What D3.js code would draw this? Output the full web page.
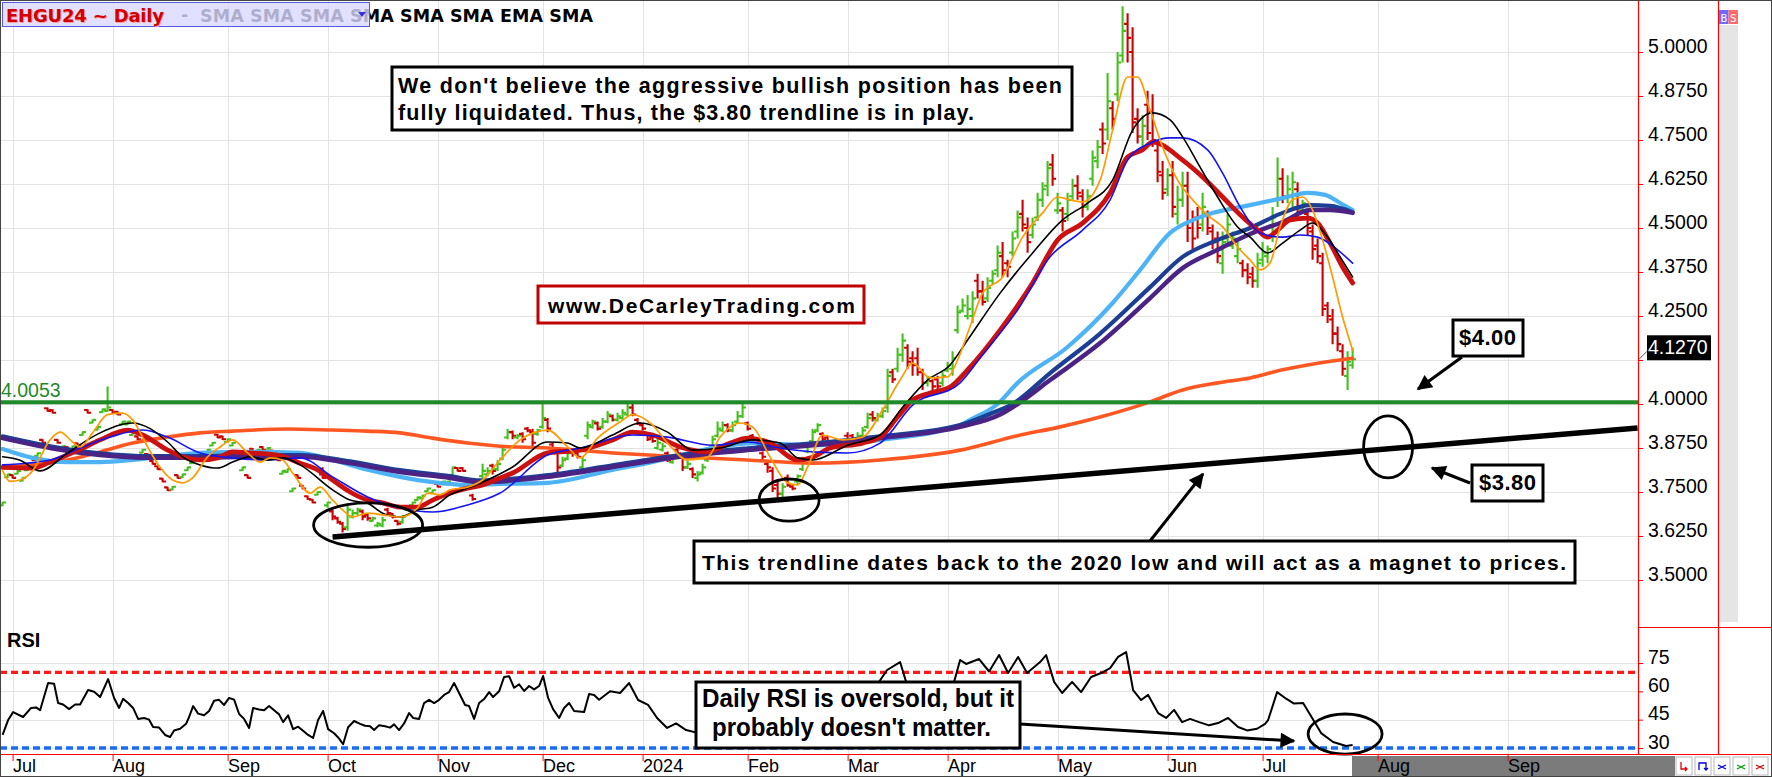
<!DOCTYPE html>
<html><head><meta charset="utf-8">
<script src="https://cdn.jsdelivr.net/npm/d3@7"></script>
<style>html,body{margin:0;padding:0;background:#fff;}svg{display:block;}</style>
</head><body>
<svg id="chart" width="1772" height="777"></svg>
<script>
// ---------------- DATA ----------------
const opens = [3.712,3.792,3.798,3.802,3.782,3.812,3.848,3.852,3.898,3.988,
3.983,3.898,3.872,3.878,3.872,3.888,3.912,3.983,3.947,3.927,
3.977,3.980,3.983,3.978,3.942,3.942,3.912,3.908,3.862,3.858,
3.838,3.823,3.788,3.763,3.757,3.798,3.792,3.812,3.832,3.858,
3.847,3.862,3.882,3.913,3.908,3.892,3.882,3.858,3.812,3.798,
3.873,3.862,3.878,3.867,3.868,3.848,3.802,3.807,3.752,3.798,
3.768,3.738,3.728,3.742,3.800,3.712,3.695,3.675,3.660,3.650,
3.680,3.690,3.695,3.685,3.668,3.655,3.655,3.700,3.688,3.668,
3.665,3.700,3.712,3.727,3.732,3.752,3.747,3.773,3.772,3.772,
3.790,3.818,3.818,3.768,3.740,3.770,3.795,3.800,3.825,3.815,
3.845,3.905,3.920,3.905,3.915,3.930,3.920,3.915,3.935,3.955,
3.885,3.860,3.825,3.845,3.865,3.860,3.820,3.910,3.935,3.945,
3.935,3.950,3.965,3.955,3.960,3.970,3.990,3.955,3.940,3.915,
3.905,3.875,3.870,3.860,3.835,3.870,3.850,3.820,3.815,3.790,
3.805,3.840,3.880,3.910,3.925,3.940,3.925,3.950,3.965,3.945,
3.910,3.890,3.860,3.830,3.810,3.770,3.745,3.790,3.765,3.780,
3.815,3.865,3.895,3.925,3.915,3.905,3.890,3.885,3.890,3.910,
3.910,3.900,3.910,3.935,3.970,3.955,3.965,3.990,4.090,4.100,
4.140,4.160,4.130,4.130,4.090,4.060,4.065,4.070,4.060,4.095,
4.100,4.210,4.265,4.250,4.250,4.350,4.320,4.300,4.350,4.380,
4.420,4.400,4.430,4.490,4.540,4.500,4.480,4.530,4.580,4.620,
4.680,4.550,4.550,4.540,4.590,4.620,4.590,4.560,4.640,4.690,
4.780,4.780,4.840,4.880,4.990,5.080,5.000,4.810,4.760,4.850,
4.830,4.720,4.650,4.610,4.650,4.540,4.580,4.620,4.520,4.530,
4.510,4.540,4.490,4.470,4.400,4.470,4.450,4.420,4.400,4.380,
4.370,4.350,4.410,4.420,4.480,4.580,4.640,4.590,4.590,4.610,
4.550,4.540,4.490,4.450,4.400,4.280,4.240,4.200,4.150,4.080,
4.110];
const highs = [3.722,3.802,3.800,3.812,3.792,3.822,3.850,3.862,3.900,3.990,
3.985,3.900,3.882,3.880,3.882,3.890,3.922,3.985,3.957,3.937,
3.987,4.050,3.985,3.980,3.952,3.952,3.922,3.910,3.872,3.860,
3.840,3.825,3.790,3.765,3.767,3.800,3.802,3.822,3.842,3.860,
3.857,3.872,3.892,3.915,3.910,3.902,3.892,3.860,3.822,3.800,
3.875,3.872,3.880,3.877,3.870,3.850,3.812,3.817,3.762,3.800,
3.770,3.740,3.730,3.752,3.820,3.722,3.700,3.680,3.665,3.710,
3.700,3.705,3.700,3.690,3.680,3.665,3.680,3.705,3.690,3.670,
3.685,3.712,3.722,3.737,3.742,3.762,3.757,3.775,3.782,3.782,
3.822,3.820,3.820,3.770,3.745,3.782,3.830,3.820,3.830,3.840,
3.880,3.930,3.925,3.915,3.920,3.935,3.930,3.930,4.000,3.960,
3.890,3.870,3.850,3.870,3.870,3.865,3.850,3.950,3.955,3.950,
3.960,3.980,3.970,3.975,3.985,4.000,4.000,3.960,3.945,3.920,
3.915,3.905,3.890,3.865,3.850,3.875,3.860,3.840,3.820,3.810,
3.830,3.870,3.910,3.950,3.950,3.945,3.950,3.980,4.000,3.950,
3.915,3.895,3.865,3.835,3.820,3.780,3.775,3.800,3.770,3.800,
3.850,3.890,3.930,3.945,3.920,3.910,3.895,3.900,3.895,3.920,
3.915,3.920,3.935,3.975,3.980,3.975,3.990,4.100,4.100,4.160,
4.200,4.170,4.150,4.160,4.100,4.080,4.070,4.080,4.090,4.120,
4.150,4.280,4.300,4.310,4.320,4.370,4.350,4.360,4.380,4.450,
4.460,4.410,4.490,4.550,4.580,4.530,4.530,4.600,4.630,4.690,
4.710,4.600,4.560,4.600,4.640,4.650,4.610,4.610,4.720,4.750,
4.800,4.940,4.860,5.000,5.130,5.110,5.070,4.840,4.820,4.890,
4.880,4.750,4.690,4.670,4.690,4.620,4.660,4.660,4.550,4.560,
4.600,4.550,4.510,4.490,4.490,4.540,4.490,4.460,4.410,4.400,
4.390,4.430,4.460,4.450,4.560,4.700,4.670,4.650,4.660,4.630,
4.580,4.550,4.510,4.470,4.430,4.290,4.270,4.220,4.170,4.150,
4.160];
const lows = [3.710,3.790,3.788,3.800,3.780,3.810,3.838,3.850,3.888,3.978,
3.973,3.888,3.870,3.868,3.870,3.878,3.910,3.973,3.945,3.925,
3.975,3.978,3.973,3.968,3.940,3.940,3.910,3.898,3.860,3.848,
3.828,3.813,3.778,3.753,3.755,3.788,3.790,3.810,3.830,3.848,
3.845,3.860,3.880,3.903,3.898,3.890,3.880,3.848,3.810,3.788,
3.863,3.860,3.868,3.865,3.858,3.838,3.800,3.805,3.750,3.788,
3.758,3.728,3.718,3.740,3.788,3.705,3.670,3.660,3.635,3.640,
3.675,3.685,3.670,3.668,3.665,3.650,3.650,3.685,3.675,3.655,
3.660,3.698,3.710,3.725,3.730,3.750,3.745,3.763,3.770,3.770,
3.785,3.808,3.808,3.758,3.725,3.768,3.790,3.795,3.800,3.810,
3.840,3.900,3.900,3.900,3.890,3.920,3.880,3.910,3.930,3.920,
3.860,3.800,3.820,3.840,3.850,3.845,3.810,3.900,3.930,3.925,
3.930,3.945,3.950,3.950,3.955,3.965,3.965,3.940,3.925,3.895,
3.890,3.870,3.865,3.835,3.830,3.850,3.810,3.815,3.790,3.780,
3.800,3.835,3.875,3.905,3.920,3.920,3.920,3.945,3.960,3.925,
3.895,3.875,3.840,3.805,3.750,3.735,3.735,3.765,3.755,3.770,
3.810,3.860,3.890,3.920,3.890,3.890,3.880,3.880,3.880,3.890,
3.895,3.895,3.905,3.930,3.950,3.950,3.960,3.975,4.060,4.090,
4.120,4.100,4.080,4.080,4.040,4.050,4.040,4.040,4.050,4.090,
4.080,4.200,4.260,4.240,4.230,4.300,4.280,4.290,4.340,4.360,
4.360,4.360,4.420,4.470,4.490,4.430,4.470,4.520,4.560,4.590,
4.620,4.540,4.490,4.520,4.580,4.580,4.530,4.550,4.620,4.670,
4.710,4.750,4.780,4.860,4.970,4.970,4.770,4.740,4.730,4.750,
4.730,4.630,4.580,4.590,4.530,4.510,4.560,4.460,4.440,4.470,
4.490,4.480,4.440,4.400,4.370,4.450,4.440,4.400,4.360,4.340,
4.330,4.330,4.390,4.400,4.460,4.560,4.570,4.570,4.560,4.530,
4.540,4.480,4.410,4.400,4.250,4.230,4.170,4.150,4.080,4.040,
4.100];
const closes = [3.720,3.800,3.790,3.810,3.790,3.820,3.840,3.860,3.890,3.980,
3.975,3.890,3.880,3.870,3.880,3.880,3.920,3.975,3.955,3.935,
3.985,3.990,3.975,3.970,3.950,3.950,3.920,3.900,3.870,3.850,
3.830,3.815,3.780,3.755,3.765,3.790,3.800,3.820,3.840,3.850,
3.855,3.870,3.890,3.905,3.900,3.900,3.890,3.850,3.820,3.790,
3.865,3.870,3.870,3.875,3.860,3.840,3.810,3.815,3.760,3.790,
3.760,3.730,3.720,3.750,3.790,3.720,3.680,3.665,3.645,3.700,
3.690,3.700,3.680,3.675,3.675,3.660,3.670,3.690,3.680,3.660,
3.680,3.710,3.720,3.735,3.740,3.760,3.755,3.765,3.780,3.780,
3.820,3.810,3.810,3.760,3.730,3.780,3.810,3.810,3.810,3.830,
3.870,3.920,3.910,3.910,3.900,3.925,3.890,3.925,3.960,3.930,
3.870,3.820,3.840,3.860,3.860,3.850,3.840,3.940,3.950,3.930,
3.950,3.970,3.955,3.965,3.975,3.990,3.970,3.945,3.930,3.900,
3.895,3.890,3.880,3.840,3.845,3.860,3.820,3.830,3.800,3.800,
3.820,3.860,3.900,3.930,3.940,3.925,3.940,3.965,3.990,3.930,
3.900,3.880,3.850,3.820,3.760,3.745,3.765,3.770,3.760,3.795,
3.840,3.880,3.920,3.940,3.900,3.895,3.885,3.890,3.885,3.900,
3.900,3.910,3.925,3.960,3.960,3.965,3.980,4.080,4.070,4.140,
4.180,4.120,4.110,4.090,4.060,4.075,4.050,4.050,4.080,4.110,
4.130,4.260,4.280,4.270,4.300,4.320,4.290,4.330,4.370,4.430,
4.380,4.390,4.470,4.530,4.510,4.460,4.510,4.580,4.610,4.670,
4.640,4.570,4.520,4.580,4.620,4.600,4.560,4.590,4.700,4.730,
4.740,4.860,4.810,4.970,5.060,5.040,4.800,4.760,4.790,4.770,
4.750,4.660,4.600,4.650,4.560,4.580,4.620,4.500,4.470,4.500,
4.560,4.500,4.460,4.420,4.460,4.510,4.470,4.440,4.380,4.360,
4.350,4.400,4.430,4.440,4.530,4.640,4.590,4.610,4.630,4.560,
4.570,4.500,4.440,4.420,4.270,4.250,4.200,4.170,4.100,4.120,
4.127];

const smaOrange = [[0,3.81],[1.5,3.78],[3.5,3.784],[6,3.81],[9.5,3.898],[11.5,3.92],[14,3.892],[15.5,3.878],[18,3.918],[21,3.97],[24,3.974],[26,3.955],[29,3.878],[31.5,3.82],[34,3.784],[36,3.776],[38,3.79],[41,3.85],[43.5,3.878],[46,3.898],[49,3.861],[51.5,3.835],[53.5,3.847],[56,3.841],[58,3.804],[61.5,3.747],[63.5,3.764],[66,3.727],[68,3.699],[70,3.679],[73,3.69],[76,3.685],[79.5,3.679],[83,3.705],[85,3.747],[87.5,3.742],[89.5,3.756],[93,3.764],[96,3.784],[99.5,3.841],[103.5,3.898],[109,3.926],[113,3.878],[115.5,3.847],[119,3.903],[123.5,3.949],[126,3.97],[130,3.94],[133,3.889],[137,3.841],[141,3.849],[143.5,3.906],[147.5,3.946],[150,3.935],[153.5,3.849],[157,3.776],[159,3.77],[161,3.821],[164,3.912],[168,3.898],[172,3.906],[176,3.983],[179.5,4.068],[182,4.116],[185.5,4.074],[189,4.077],[191,4.125],[193.5,4.22],[196,4.315],[200,4.361],[204,4.474],[208,4.543],[211,4.588],[213.5,4.58],[216,4.574],[219.5,4.636],[222,4.778],[225,4.929],[227,4.929],[229.5,4.835],[232,4.73],[235,4.636],[238,4.58],[241.5,4.531],[244,4.503],[247,4.446],[249.5,4.409],[251.5,4.381],[253.5,4.401],[255.5,4.503],[258,4.58],[260,4.588],[262,4.551],[264,4.466],[266,4.361],[268,4.247],[270,4.153]];
const smaBlack = [[0,3.85],[3.5,3.84],[7.5,3.81],[13,3.861],[19.5,3.918],[26,3.946],[29.5,3.93],[33,3.892],[36,3.85],[39.5,3.827],[43,3.818],[46,3.835],[49.5,3.85],[53,3.841],[56,3.847],[59.5,3.827],[66,3.756],[69.5,3.727],[73,3.718],[76,3.69],[79.5,3.679],[83,3.699],[86,3.707],[89.5,3.742],[93,3.761],[96,3.778],[102,3.821],[109,3.892],[113,3.889],[115.5,3.875],[122,3.912],[127.5,3.946],[133,3.92],[138,3.869],[143.5,3.875],[150,3.898],[155.5,3.889],[159,3.847],[162,3.841],[169,3.883],[175.5,3.912],[180,3.991],[185,4.068],[189.5,4.111],[193,4.182],[199.5,4.315],[206,4.429],[212,4.523],[217,4.571],[222,4.636],[226,4.778],[230,4.827],[233.5,4.807],[236,4.759],[239.5,4.673],[243,4.588],[247,4.503],[249.5,4.474],[253,4.429],[256,4.457],[259.5,4.494],[262,4.514],[265,4.474],[267.5,4.418],[270,4.361]];
const smaBlue = [[0,3.827],[9.5,3.841],[16,3.878],[21.5,3.906],[28,3.926],[33,3.906],[39.5,3.861],[46,3.847],[53,3.841],[59.5,3.847],[66,3.793],[73,3.736],[79.5,3.705],[86,3.693],[93,3.713],[99.5,3.747],[109,3.855],[115.5,3.875],[126,3.912],[133,3.906],[142,3.883],[149,3.892],[155.5,3.875],[162,3.864],[169,3.861],[175.5,3.889],[182,3.997],[191.5,4.06],[196,4.14],[203,4.267],[209.5,4.418],[216,4.494],[221.5,4.58],[225,4.693],[229.5,4.741],[233.5,4.756],[236,4.756],[241,4.722],[244,4.656],[247.5,4.56],[251.5,4.486],[256,4.474],[259.5,4.48],[263,4.474],[267,4.438],[270,4.4]];
const emaRed = [[0,3.82],[6,3.818],[9.5,3.835],[16,3.875],[19.5,3.898],[25,3.926],[28,3.912],[33,3.869],[36,3.85],[39.5,3.841],[43,3.847],[46,3.864],[49.5,3.861],[55,3.855],[59.5,3.832],[63,3.813],[66,3.784],[69.5,3.75],[73,3.727],[76,3.719],[79.5,3.707],[83,3.707],[86,3.727],[89.5,3.747],[93,3.761],[96,3.77],[99.5,3.79],[102,3.804],[109,3.861],[115.5,3.869],[122,3.898],[126,3.92],[130,3.912],[135.5,3.878],[141,3.864],[145.5,3.889],[149,3.903],[153.5,3.889],[159,3.841],[162,3.849],[165.5,3.875],[172,3.889],[175.5,3.906],[179,3.963],[182,4.011],[185.5,4.031],[189.5,4.048],[193,4.097],[199.5,4.21],[206,4.344],[211,4.466],[216,4.514],[221.5,4.6],[225,4.702],[228,4.722],[230,4.744],[236,4.693],[240,4.645],[244,4.588],[248,4.531],[251,4.494],[253,4.474],[255,4.494],[257.5,4.523],[261,4.528],[263,4.514],[265.5,4.457],[268,4.389],[270,4.344]];
const smaLightBlue = [[0,3.872],[6,3.847],[13,3.835],[19.5,3.835],[26,3.841],[33,3.852],[39.5,3.861],[49.5,3.864],[59.5,3.861],[66,3.841],[73,3.813],[79.5,3.793],[86,3.778],[93,3.77],[99.5,3.773],[109,3.776],[122,3.813],[129,3.832],[142,3.875],[150,3.889],[162,3.883],[175.5,3.898],[191.5,3.94],[193.5,3.955],[199,4.0],[203,4.06],[213,4.162],[222,4.287],[227.5,4.381],[233.5,4.486],[239.5,4.531],[249.5,4.565],[256,4.585],[261,4.6],[264.5,4.594],[267.5,4.571],[270,4.551]];
const smaNavy = [[0,3.908],[9.5,3.88],[19.5,3.86],[29.5,3.852],[39.5,3.852],[49.5,3.855],[59.5,3.855],[69.5,3.837],[79.5,3.812],[89.5,3.795],[95.5,3.783],[109,3.798],[122,3.826],[135.5,3.855],[149,3.874],[162,3.888],[175.5,3.908],[191.5,3.94],[198,3.975],[202,4.0],[209.5,4.088],[219.5,4.2],[229.5,4.332],[236,4.418],[243,4.466],[249.5,4.5],[256,4.543],[261.5,4.565],[265.5,4.563],[270,4.545]];
const smaPurple = [[0,3.903],[9.5,3.875],[19.5,3.855],[29.5,3.847],[39.5,3.847],[49.5,3.85],[59.5,3.85],[69.5,3.832],[79.5,3.807],[89.5,3.79],[95.5,3.778],[109,3.793],[122,3.821],[135.5,3.85],[149,3.869],[162,3.883],[175.5,3.903],[191.5,3.935],[199.5,3.97],[203,4.0],[209.5,4.068],[219.5,4.173],[229.5,4.301],[236,4.386],[243,4.438],[249.5,4.483],[256,4.517],[261.5,4.551],[265.5,4.551],[270,4.543]];
const sma200 = [[0,3.82],[6,3.827],[13,3.841],[19.5,3.864],[26,3.889],[33,3.906],[39.5,3.918],[46,3.923],[57,3.929],[66,3.926],[73,3.923],[79.5,3.918],[86,3.903],[93,3.889],[99.5,3.88],[109,3.875],[122,3.861],[135.5,3.85],[149,3.841],[162,3.832],[175.5,3.841],[191.5,3.869],[203,3.91],[211.5,3.935],[219.5,3.963],[229.5,4.006],[236,4.04],[243,4.06],[249.5,4.074],[256,4.097],[263,4.116],[270,4.13]];

const rsi = [[0,37],[1.1,44.8],[2.1,49],[4.1,46.4],[5.7,51.2],[6.7,51.5],[7.5,50],[9.1,64.4],[10.3,64],[11.1,53.8],[12.1,53],[13.3,50.6],[14.5,53],[15.5,53],[17.1,60.7],[18.3,59.8],[19.5,57],[21.1,66.5],[22.3,56.5],[23.3,51.2],[24.1,56],[25.1,53.8],[26.1,51.2],[27.1,45.4],[28.3,45.9],[29.3,45],[30.1,41.1],[31.3,40.8],[32.5,36.9],[33.5,35.8],[34.3,39.3],[35.5,40.2],[36.7,42.8],[37.3,46.4],[38.1,52.2],[39.1,48.2],[40.3,47.3],[41.3,49.6],[42.3,55],[43.3,55.5],[44.3,52.8],[45.3,56.5],[46.3,55.6],[47.3,48],[48.3,45.4],[49.3,40.6],[50.1,51.2],[51.3,50.4],[52.3,50],[53.3,52.2],[54.3,50],[55.3,47.8],[56.1,43.7],[57.1,47.3],[58.1,40],[59.1,41.3],[60.1,39.1],[61.1,36.9],[62.1,35.3],[63.1,44.8],[64.1,49.6],[65.1,40],[66.3,37.8],[67.3,35],[68.1,32],[69.1,41],[70.3,44.3],[71.5,42.8],[72.5,41.8],[73.5,41.5],[74.3,39.5],[75.3,42.1],[76.5,41.5],[77.5,40.8],[78.3,42.5],[79.3,39.5],[80.3,43],[81.3,48.5],[82.1,45.9],[83.3,45.4],[84.3,53.8],[85.3,55.5],[86.3,53.8],[87.3,55.5],[88.3,58.1],[89.3,59.6],[90.3,64.4],[91.3,59.1],[92.5,52.8],[93.3,52.2],[94.3,45.4],[95.3,53.8],[96.3,55.9],[97.3,59.6],[98.1,57],[99.3,60],[100.3,67.6],[101.3,68],[102.3,61.9],[103.3,63.7],[104.3,60.2],[105.3,62.8],[106.3,61],[107.3,62.8],[108.1,68.1],[109.1,56.5],[110.1,50.6],[111.3,45.9],[112.3,51.2],[113.3,53.8],[114.3,49.6],[116.3,49],[117.3,58.6],[118.3,58.1],[119.3,55.5],[121.5,60],[123.5,59.1],[125.3,64.4],[127.1,55.4],[129.1,52.8],[130.9,45.9],[132.9,40.6],[134.7,43],[136.7,39.5],[139,38],[142,47],[145,50],[148,56],[150,48],[153,40],[155,33],[157,36],[159,41],[161,50],[163,58],[165,53],[168,52],[171,55],[174,60],[176.9,71.3],[179.5,75.5],[180.7,65],[182,63],[184,58],[186,56],[188,61],[190.3,65],[191.5,76.6],[192.7,74.5],[195.3,77.1],[197.3,70.5],[199.3,79.2],[201.1,69.7],[203.1,78.2],[204.9,69.7],[207.5,75.5],[208.7,79.2],[210.3,65],[211.9,59.1],[213.9,65],[215.7,59.6],[217.7,67.6],[219.7,69.7],[221.5,72.3],[223.1,78.2],[224.7,80.8],[226.1,60.7],[227.7,55.4],[229.1,58.1],[231.1,48.5],[232.7,45.9],[234.3,50.2],[235.9,43.7],[237.5,45.4],[239.3,43.7],[241.3,42],[243.1,43.2],[245.1,45.9],[247.1,41.1],[248.9,39.3],[250.9,40.2],[252.5,42.8],[253.1,44.8],[254.9,59.6],[256.7,56.1],[258.3,53.5],[260.1,53.8],[261.7,46.8],[263.7,37.9],[266.1,33.2],[268.7,31.1],[270,31.6]];

const priceTicks = [3.5,3.625,3.75,3.875,4.0,4.125,4.25,4.375,4.5,4.625,4.75,4.875,5.0];
const rsiTicks = [30,45,60,75];
const monthIdx = [2,22,45,65,87,108,128,149,169,189,211,233,252,275,301];
const monthLabels = ["Jul","Aug","Sep","Oct","Nov","Dec","2024","Feb","Mar","Apr","May","Jun","Jul","Aug","Sep"];
const supportLevel = 4.0053;
const lastPrice = 4.127;
const trendline = [[66,3.622],[327,3.932]];
const rsiLevels = [70,30];

// ---------------- SCALES ----------------
const svg = d3.select('#chart');
const FONT = '"Liberation Sans", Arial, sans-serif';
const PX = 1638;
const x = d3.scaleLinear().domain([0,270]).range([2.6,1352.6]);
const y = d3.scaleLinear().domain([3.5,5.0]).range([580,52]);
const yr = d3.scaleLinear().domain([30,75]).range([748,663]);

svg.append('rect').attr('width',1772).attr('height',777).attr('fill','#fff');
const defs = svg.append('defs');
defs.append('clipPath').attr('id','cp').append('rect').attr('x',0).attr('y',0).attr('width',PX).attr('height',627);
defs.append('clipPath').attr('id','cr').append('rect').attr('x',0).attr('y',627).attr('width',PX).attr('height',127);
defs.append('marker').attr('id','ah').attr('viewBox','0 0 10 10').attr('refX',9).attr('refY',5)
  .attr('markerWidth',17).attr('markerHeight',15).attr('markerUnits','userSpaceOnUse').attr('orient','auto')
  .append('path').attr('d','M0,0 L10,5 L0,10 z').attr('fill','#000');

// ---------------- GRID ----------------
const grid = svg.append('g').attr('stroke','#e2e2e2').attr('stroke-width',1);
grid.selectAll('.hg').data(priceTicks).join('line').attr('class','hg')
  .attr('x1',0).attr('x2',PX).attr('y1',d=>Math.round(y(d))+0.5).attr('y2',d=>Math.round(y(d))+0.5);
grid.selectAll('.rg').data(rsiTicks).join('line').attr('class','rg')
  .attr('x1',0).attr('x2',PX).attr('y1',d=>Math.round(yr(d))+0.5).attr('y2',d=>Math.round(yr(d))+0.5);
grid.selectAll('.vg').data(monthIdx).join('line').attr('class','vg')
  .attr('x1',d=>Math.round(x(d))+0.5).attr('x2',d=>Math.round(x(d))+0.5).attr('y1',0).attr('y2',754);

// ---------------- BARS ----------------
const barsG = svg.append('g').attr('clip-path','url(#cp)');
barsG.selectAll('path').data(closes).join('path')
  .attr('d',(c,i)=>{const xi=x(i);return `M${xi},${y(highs[i])}V${y(lows[i])}M${xi-3.5},${y(opens[i])}H${xi}M${xi},${y(c)}H${xi+3.5}`;})
  .attr('fill','none').attr('stroke-width',2.1)
  .attr('stroke',(c,i)=>c>=opens[i]?'#44c01c':'#cc0000');

// ---------------- MOVING AVERAGES ----------------
const lineGen = d3.line().x(d=>x(d[0])).y(d=>y(d[1])).curve(d3.curveMonotoneX);
const maG = svg.append('g').attr('clip-path','url(#cp)').attr('fill','none').attr('stroke-linejoin','round').attr('stroke-linecap','round');
const maSpecs = [
  [sma200,'#ff5722',3.6],[smaLightBlue,'#4db3f5',4.2],[smaNavy,'#1c3f94',4.2],[smaPurple,'#4a2384',4.5],
  [emaRed,'#cc1111',4.8],[smaBlue,'#1515ee',1.6],[smaBlack,'#000000',1.6],[smaOrange,'#ff9a00',1.7]
];
maSpecs.forEach(([data,col,w])=>maG.append('path').attr('d',lineGen(data)).attr('stroke',col).attr('stroke-width',w));

// support line & trendline
svg.append('line').attr('x1',0).attr('x2',PX).attr('y1',y(supportLevel)).attr('y2',y(supportLevel))
  .attr('stroke','#1f8a2a').attr('stroke-width',4);
svg.append('text').attr('x',1).attr('y',y(supportLevel)-5).text(supportLevel.toFixed(4))
  .attr('fill','#1f8a2a').style('font','19.5px '+FONT);
svg.append('line').attr('x1',x(trendline[0][0])).attr('y1',y(trendline[0][1]))
  .attr('x2',x(trendline[1][0])).attr('y2',y(trendline[1][1]))
  .attr('stroke','#000').attr('stroke-width',5.5).attr('stroke-linecap','butt');

// ellipses (data-anchored)
const ell = (cx,cy,rx,ry,sy)=>svg.append('ellipse').attr('cx',x(cx)).attr('cy',sy(cy))
  .attr('rx',x(cx+rx)-x(cx)).attr('ry',Math.abs(sy(cy+ry)-sy(cy)))
  .attr('fill','none').attr('stroke','#000').attr('stroke-width',2.8);
ell(73.1,3.656,10.9,0.063,y);
ell(157.3,3.727,6,0.06,y);
ell(277.1,3.878,4.9,0.088,y);

// ---------------- RSI ----------------
const rsiG = svg.append('g').attr('clip-path','url(#cr)');
rsiG.append('line').attr('x1',0).attr('x2',PX-2).attr('y1',yr(rsiLevels[0])).attr('y2',yr(rsiLevels[0]))
  .attr('stroke','#ff1a1a').attr('stroke-width',3.2).attr('stroke-dasharray','7,4');
rsiG.append('line').attr('x1',0).attr('x2',PX-2).attr('y1',yr(rsiLevels[1])).attr('y2',yr(rsiLevels[1]))
  .attr('stroke','#1a6cf0').attr('stroke-width',3.6).attr('stroke-dasharray','7,4');
rsiG.append('path').attr('d',d3.line().x(d=>x(d[0])).y(d=>yr(d[1]))(rsi))
  .attr('fill','none').attr('stroke','#000').attr('stroke-width',2).attr('stroke-linejoin','round');
svg.append('text').attr('x',7).attr('y',647).text('RSI').style('font','bold 20px '+FONT).attr('fill','#000');
svg.append('ellipse').attr('cx',x(268.5)).attr('cy',yr(37.4)).attr('rx',x(268.5+7.4)-x(268.5)).attr('ry',yr(30)-yr(40.6))
  .attr('fill','none').attr('stroke','#000').attr('stroke-width',2.8);

// ---------------- AXES ----------------
svg.append('rect').attr('x',1352).attr('y',756).attr('width',323).attr('height',20).attr('fill','#7b7b7b');
const gy = svg.append('g').attr('transform',`translate(${PX},0)`)
  .call(d3.axisRight(y).tickValues(priceTicks).tickSize(5)
    .tickFormat(d=>Math.abs(d-lastPrice)<0.01?'':d3.format('.4f')(d)));
gy.select('.domain').remove();
gy.selectAll('line').attr('stroke','#ff0000');
gy.selectAll('text').attr('dy',0).attr('x',10).attr('fill','#000').style('font','19.5px '+FONT);
const gyr = svg.append('g').attr('transform',`translate(${PX},0)`)
  .call(d3.axisRight(yr).tickValues(rsiTicks).tickSize(5));
gyr.select('.domain').remove();
gyr.selectAll('line').attr('stroke','#ff0000');
gyr.selectAll('text').attr('dy',0).attr('x',10).attr('fill','#000').style('font','19.5px '+FONT);
const gx = svg.append('g').attr('transform','translate(0,755)')
  .call(d3.axisBottom(x).tickValues(monthIdx).tickFormat((d,i)=>monthLabels[i]).tickSize(6));
gx.select('.domain').remove();
gx.selectAll('line').attr('stroke','#ff0000');
gx.selectAll('text').attr('text-anchor','start').attr('dy',0).attr('y',16.5).attr('x',0)
  .attr('fill','#000').style('font','18px '+FONT);

// frame lines of axis area
const red = svg.append('g').attr('stroke','#ff0000').attr('stroke-width',1.2);
red.append('line').attr('x1',PX+0.5).attr('x2',PX+0.5).attr('y1',0).attr('y2',755);
red.append('line').attr('x1',1718.5).attr('x2',1718.5).attr('y1',0).attr('y2',755);
red.append('line').attr('x1',PX).attr('x2',1772).attr('y1',627.5).attr('y2',627.5);
red.append('line').attr('x1',0).attr('x2',1772).attr('y1',754.5).attr('y2',754.5);

// scrollbar & B/S
svg.append('rect').attr('x',1719).attr('y',25).attr('width',19).attr('height',597).attr('fill','#e5e5e5');
svg.append('rect').attr('x',1719).attr('y',10).attr('width',9.5).attr('height',14).attr('fill','#6b6bff');
svg.append('rect').attr('x',1728.5).attr('y',10).attr('width',9.5).attr('height',14).attr('fill','#ff6b6b');
svg.append('text').attr('x',1723.7).attr('y',21.5).attr('text-anchor','middle').text('B').attr('fill','#fff').style('font','11px "DejaVu Sans Mono", monospace');
svg.append('text').attr('x',1733.2).attr('y',21.5).attr('text-anchor','middle').text('S').attr('fill','#fff').style('font','11px "DejaVu Sans Mono", monospace');

// current price label
svg.append('line').attr('x1',PX+1).attr('y1',y(lastPrice)).attr('x2',1647).attr('y2',y(lastPrice)-8).attr('stroke','#555').attr('stroke-width',1);
svg.append('rect').attr('x',1647).attr('y',y(lastPrice)-24).attr('width',64).attr('height',25).attr('fill','#000');
svg.append('text').attr('x',1648).attr('y',y(lastPrice)-5).text(lastPrice.toFixed(4)).attr('fill','#fff').style('font','19.5px '+FONT);

// bottom buttons
const btnCols = ['#e00000','#0000dd','#0000dd','#00a000','#e00000'];
btnCols.forEach((c,k)=>{
  const bx=1676+19*k, by=757;
  svg.append('rect').attr('x',bx).attr('y',by).attr('width',16).attr('height',18).attr('fill','#fff').attr('stroke','#b8b8b8');
  let d;
  if(k===0) d=`M${bx+5},${by+5}V${by+12}H${bx+11}M${bx+9},${by+10}L${bx+11},${by+12}L${bx+9},${by+14}`;
  else if(k===1) d=`M${bx+4},${by+13}V${by+6}H${bx+11}V${by+13}M${bx+9},${by+11}L${bx+11},${by+13}L${bx+13},${by+11}`;
  else d=`M${bx+4},${by+8}L${bx+12},${by+12}M${bx+4},${by+12}L${bx+12},${by+8}`;
  svg.append('path').attr('d',d).attr('fill','none').attr('stroke',c).attr('stroke-width',1.3);
});

// ---------------- ANNOTATIONS ----------------
function box(x0,y0,w,h,stroke){
  svg.append('rect').attr('x',x0).attr('y',y0).attr('width',w).attr('height',h)
    .attr('fill','#fff').attr('stroke',stroke||'#000').attr('stroke-width',3);
}
function txt(x0,y0,s,size,len,adj){
  const t = svg.append('text').attr('x',x0).attr('y',y0).text(s).attr('fill','#000')
    .style('font','bold '+size+'px '+FONT);
  if(len) t.attr('textLength',len).attr('lengthAdjust',adj||'spacing');
  return t;
}
function arrow(x1,y1,x2,y2){
  svg.append('line').attr('x1',x1).attr('y1',y1).attr('x2',x2).attr('y2',y2)
    .attr('stroke','#000').attr('stroke-width',3).attr('marker-end','url(#ah)');
}
box(392,67,680,63);
txt(398,93,"We don't believe the aggressive bullish position has been",21.5,664);
txt(398,120,"fully liquidated. Thus, the $3.80 trendline is in play.",21.5,576);
box(538,286,326,37,'#c00000');
txt(548,313,"www.DeCarleyTrading.com",21,307);
box(1453,320,70,36);
txt(1459,345,"$4.00",22,57);
arrow(1462,357,1418,389);
box(1472,465,71,36);
txt(1479,490,"$3.80",22,57);
arrow(1470,483,1432,468);
box(694,541,881,42);
txt(702,570,"This trendline dates back to the 2020 low and will act as a magnet to prices.",21,864);
arrow(1150,541,1203,474);
box(696,682,324,66);
txt(702,707,"Daily RSI is oversold, but it",25,312,'spacingAndGlyphs');
txt(712,736,"probably doesn't matter.",25,279,'spacingAndGlyphs');
arrow(1020,724,1294,741);

// ---------------- HEADER ----------------
svg.append('text').attr('x',200).attr('y',22).text('SMA SMA SMA SMA SMA SMA EMA SMA')
  .attr('fill','#000').attr('textLength',393).style('font','bold 17.5px "DejaVu Sans", sans-serif');
svg.append('text').attr('x',181).attr('y',21).text('-').attr('fill','#000').style('font','bold 17.5px "DejaVu Sans", sans-serif');
svg.append('rect').attr('x',2.5).attr('y',2.5).attr('width',367).attr('height',24)
  .attr('fill','rgb(218,216,255)').attr('fill-opacity',0.8).attr('stroke','#5a5ae0').attr('stroke-width',1);
svg.append('path').attr('d','M358,12 L366,12 L362,17 Z').attr('fill','#3333dd');
svg.append('text').attr('x',7).attr('y',23).text('EHGU24 ~ Daily').attr('fill','#ff9c9c')
  .attr('textLength',158).style('font','bold 18px "DejaVu Sans", sans-serif');
svg.append('text').attr('x',6).attr('y',22).text('EHGU24 ~ Daily').attr('fill','#d40000')
  .attr('textLength',158).style('font','bold 18px "DejaVu Sans", sans-serif');

// outer frame
svg.append('rect').attr('x',0.5).attr('y',0.5).attr('width',1771).attr('height',776)
  .attr('fill','none').attr('stroke','#444').attr('stroke-width',1);
</script>
</body></html>
